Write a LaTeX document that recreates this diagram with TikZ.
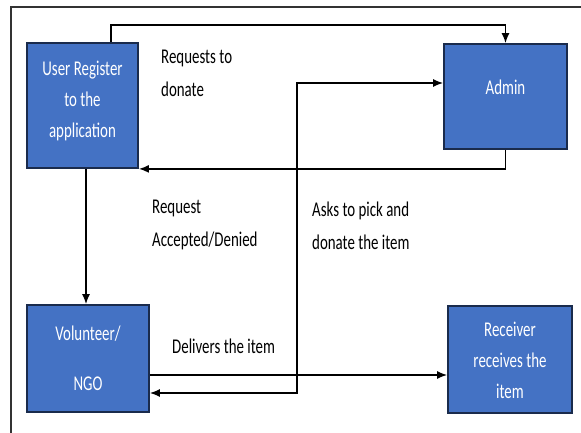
\documentclass[tikz,border=0pt]{standalone}
\usepackage{fontspec}
\setmainfont{Carlito}[FakeStretch=0.71]
\usetikzlibrary{arrows.meta}
\definecolor{boxblue}{HTML}{4472C4}
\definecolor{boxedge}{HTML}{1A2B4C}
\definecolor{framegray}{HTML}{333333}
\begin{document}
\begin{tikzpicture}[x=1pt,y=-1pt,
  box/.style={draw=boxedge, line width=1.8pt, fill=boxblue, text=white, align=center, inner sep=0pt, font=\fontsize{21}{31}\selectfont},
  lbl/.style={anchor=north west, align=left, inner sep=0pt, font=\fontsize{21}{33}\selectfont},
  conn/.style={line width=1.5pt, draw=black},
  tip/.style={-{Latex[length=10pt,width=8pt]}},
  arr/.style={conn, tip},
  dbl/.style={conn, {Latex[length=10pt,width=8pt]}-{Latex[length=10pt,width=8pt]}},
]
\useasboundingbox (0,0) rectangle (581,433);
\draw[line width=1.2pt, draw=framegray] (11,433) -- (11,7) -- (581,7);

\node[box, minimum width=111pt, minimum height=125pt] (user) at (82.5,105.5) {User Register\\to the\\application\rule[-13pt]{0pt}{0pt}};
\node[box, minimum width=123pt, minimum height=105pt, text depth=18pt] (admin) at (505.5,96.5) {Admin};
\node[box, minimum width=122pt, minimum height=107pt] (vol) at (88,358.5) {Volunteer/\\[19pt]NGO};
\node[box, minimum width=124pt, minimum height=107pt] (recv) at (510,359.5) {\rule{0pt}{17pt}Receiver\\receives the\\item};

\node[lbl] (l1) at (161,50) {Requests to\\donate};
\node[lbl] (l2) at (152,200) {Request\\Accepted/Denied};
\node[lbl] (l3) at (312,202) {Asks to pick and\\donate the item};
\node[lbl] (l4) at (172,339) {Delivers the item};

\coordinate (k1) at (111,25);
\coordinate (k3) at (86,0);
\coordinate (k4) at (0,375);
\coordinate (k5) at (297,393);
\coordinate (k6) at (297,83);

\draw[arr] (user.north -| k1) -- (k1) -| (admin.north);
\draw[arr] (admin.south) |- (user.south east);
\draw[arr] (user.south -| k3) -- (vol.north -| k3);
\draw[arr] (vol.east |- k4) -- (recv.west |- k4);
\draw[dbl] (vol.east |- k5) -- (k5) -- (k6) -- (admin.west |- k6);
\end{tikzpicture}
\end{document}
